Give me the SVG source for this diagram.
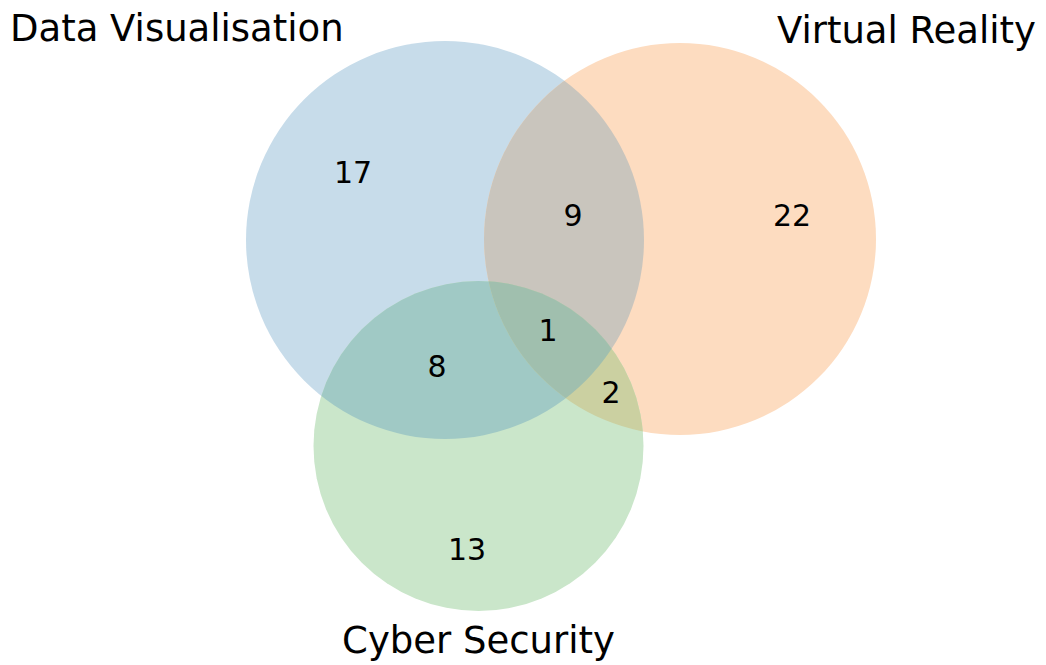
<svg xmlns="http://www.w3.org/2000/svg" width="1046" height="665" viewBox="0 0 1046 665">
  <style>
    .lbl { font-family: "DejaVu Sans", sans-serif; font-size: 37px; fill: #000; }
    .num { font-family: "DejaVu Sans", sans-serif; font-size: 30px; fill: #000; text-anchor: middle; }
  </style>
  <defs>
    <circle id="cA" cx="445" cy="240" r="199"/>
    <circle id="cB" cx="680" cy="239" r="196"/>
    <circle id="cC" cx="478.5" cy="446" r="165"/>
    <clipPath id="clipA"><use href="#cA"/></clipPath>
    <clipPath id="clipB"><use href="#cB"/></clipPath>
    <clipPath id="clipC"><use href="#cC"/></clipPath>
  </defs>
  <rect width="1046" height="665" fill="#ffffff"/>
  <g id="regions">
    <use href="#cA" fill="#c7dcea"/>
    <use href="#cB" fill="#fddcc0"/>
    <use href="#cC" fill="#cae6ca"/>
    <g clip-path="url(#clipA)"><use href="#cB" fill="#c9c5bd"/></g>
    <g clip-path="url(#clipA)"><use href="#cC" fill="#a0c9c5"/></g>
    <g clip-path="url(#clipB)"><use href="#cC" fill="#cbd0a1"/></g>
    <g clip-path="url(#clipA)"><g clip-path="url(#clipB)"><use href="#cC" fill="#a0bfae"/></g></g>
  </g>
  <g id="counts">
    <text class="num" x="353" y="183">17</text>
    <text class="num" x="573" y="226">9</text>
    <text class="num" x="792" y="226">22</text>
    <text class="num" x="548" y="341">1</text>
    <text class="num" x="437" y="377">8</text>
    <text class="num" x="611" y="403">2</text>
    <text class="num" x="467" y="560">13</text>
  </g>
  <g id="labels">
    <text class="lbl" x="10" y="41">Data Visualisation</text>
    <text class="lbl" x="1036" y="43" text-anchor="end">Virtual Reality</text>
    <text class="lbl" x="478.5" y="653" text-anchor="middle">Cyber Security</text>
  </g>
</svg>
